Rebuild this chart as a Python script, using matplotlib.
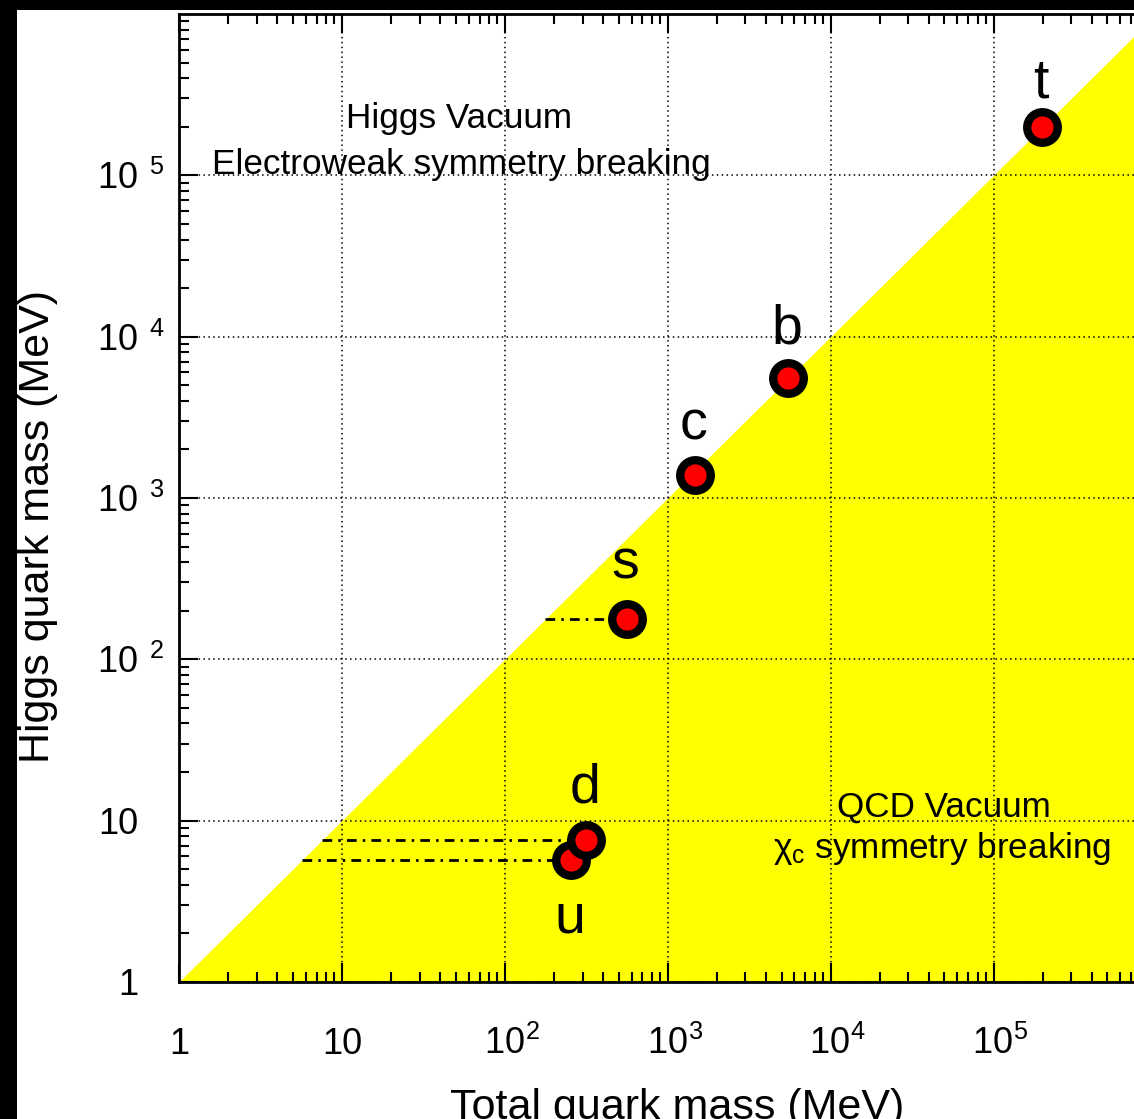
import matplotlib
matplotlib.use("Agg")
import matplotlib.pyplot as plt
from matplotlib.patches import Rectangle

plt.rcParams['font.family'] = ['Liberation Sans', 'DejaVu Sans']
plt.rcParams['mathtext.fontset'] = 'custom'
plt.rcParams['mathtext.rm'] = 'Liberation Sans'
plt.rcParams['mathtext.default'] = 'regular'

# quark masses (MeV)
quarks = ['u', 'd', 's', 'c', 'b', 't']
total_mass = [254, 315, 560, 1470, 5500, 198000]
higgs_mass = [5.7, 7.6, 177, 1395, 5550, 199000]
qcd_line = [True, True, True, False, False, False]

xticks = [1, 10, 1e2, 1e3, 1e4, 1e5]
xticklabels = ["1", "10", r"$\hspace{0.42}10^{2}$", r"$\hspace{0.42}10^{3}$",
               r"$\hspace{0.42}10^{4}$", r"$\hspace{0.42}10^{5}$"]
yticks = [1, 10, 1e2, 1e3, 1e4, 1e5]
yticklabels = ["1", "10", r"$10^{\hspace{0.5}2}$",
               r"$10^{\hspace{0.5}3}$", r"$10^{\hspace{0.5}4}$", r"$10^{\hspace{0.5}5}$"]

fig = plt.figure(figsize=(11.34, 11.19), dpi=100, facecolor='black')
bg = Rectangle((0.015, 0), 0.985, 0.991, transform=fig.transFigure,
               facecolor='white', edgecolor='none', zorder=-10)
fig.patches.append(bg)

ax = fig.add_axes([0.1578, 0.1225, 0.862, 0.865])
ax.set_xscale('log')
ax.set_yscale('log')
ax.set_xlim(1, 1e6)
ax.set_ylim(1, 1e6)

# QCD region below the diagonal
ax.fill_between([1, 1e6], [1, 1], [1, 1e6], color='#ffff00', lw=0, zorder=1)

ax.grid(True, which='major', color='black', ls=(0, (1, 2.2)), lw=1.1, zorder=2)

for xm, ym, on in zip(total_mass, higgs_mass, qcd_line):
    if on:
        ax.plot([ym, xm], [ym, ym], color='black', lw=2,
                ls=(0, (3.5, 2.2, 0.9, 2.2)), zorder=3)

ax.plot(total_mass, higgs_mass, 'o', ms=22, mfc='red', mec='black',
        mew=6, zorder=4, ls='none')

offsets = {'t': 21, 'b': 25, 'c': 25, 's': 29, 'd': 27, 'u': -52}
for q, xm, ym in zip(quarks, total_mass, higgs_mass):
    ax.annotate(q, (xm, ym), xytext=(-1, offsets[q]), textcoords='offset points',
                ha='center', va='baseline', fontsize=40, zorder=5)

ax.text(0.287, 0.882, "Higgs Vacuum", transform=ax.transAxes, fontsize=25.3,
        ha='center', va='baseline')
ax.text(0.289, 0.835, "Electroweak symmetry breaking", transform=ax.transAxes,
        fontsize=25.3, ha='center', va='baseline')
ax.text(0.783, 0.171, "QCD Vacuum", transform=ax.transAxes, fontsize=25.3,
        ha='center', va='baseline')
ax.text(0.781, 0.128, "χ${}_{c}$ symmetry breaking", transform=ax.transAxes,
        fontsize=25.3, ha='center', va='baseline')

ax.set_xticks(xticks)
ax.set_xticklabels(xticklabels)
ax.set_yticks(yticks)
ax.set_yticklabels(yticklabels)
ax.tick_params(which='both', direction='in', top=True, right=True, width=1.5,
               labelsize=26, color='black')
ax.tick_params(which='major', length=14)
ax.tick_params(which='minor', length=7)
ax.tick_params(axis='x', which='major', pad=52)
ax.tick_params(axis='y', which='major', pad=10)
plt.setp(ax.get_xticklabels(), va='baseline')
# plain y labels sit where the "10" of the exponent labels sits
for tk in ax.yaxis.get_major_ticks()[:2]:
    tk.set_pad(29)
for s in ax.spines.values():
    s.set_linewidth(2)

ax.set_xlabel("Total quark mass (MeV)", fontsize=31)
ax.set_ylabel("Higgs quark mass (MeV)", fontsize=31)
ax.xaxis.set_label_coords(0.51, -0.11)
ax.yaxis.set_label_coords(-0.124, 0.47)

fig.savefig("out.png", dpi=100, facecolor=fig.get_facecolor())
